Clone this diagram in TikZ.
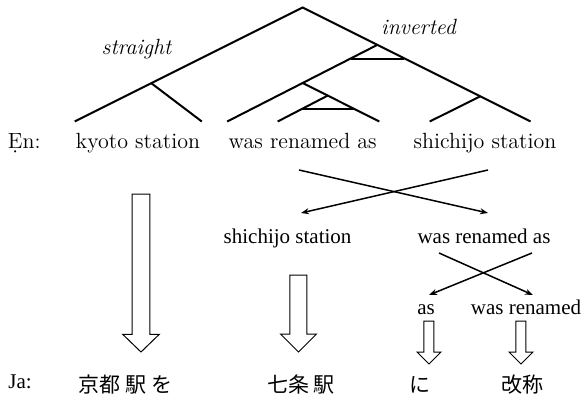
\documentclass[tikz,border=0pt]{standalone}
\usepackage{fontspec}
\newfontfamily\timesf{Liberation Serif}
\newfontfamily\cjk{Noto Sans CJK JP}
\usetikzlibrary{arrows.meta}
\tikzset{
  pics/harrow/.style n args={4}{code={
    \draw[line width=0.5pt] (0,0) -- (-#3/2,-#4) -- (-#2/2,-#4) -- (-#2/2,-#1)
      -- (#2/2,-#1) -- (#2/2,-#4) -- (#3/2,-#4) -- cycle;
  }},
}
\begin{document}
\begin{tikzpicture}[x=0.5pt,y=-0.5pt,
  treeline/.style={line width=1pt},
  crossline/.style={line width=0.75pt,-{Stealth[length=4pt,width=3pt]}},
  entext/.style={inner sep=0pt,anchor=base,font=\fontsize{11}{13}\selectfont},
  labeltext/.style={inner sep=0pt,anchor=base,font=\fontsize{11}{13}\selectfont\itshape},
  tmtext/.style={inner sep=0pt,anchor=base,font=\fontsize{10.5}{12}\selectfont\timesf},
  jatext/.style={inner sep=0pt,anchor=center,font=\fontsize{10.5}{12}\selectfont\cjk},
]
\useasboundingbox (0,0) rectangle (586,402);

% tree coordinates
\coordinate (root) at (302.7,7.5);
\coordinate (l1) at (74.7,121.5);
\coordinate (r1) at (530.6,121.5);
\coordinate (s) at (151.3,83.2);
\coordinate (sl) at (201.8,121.5);
\coordinate (i) at (377.4,44.85);
\coordinate (l2) at (227.2,121.5);
\coordinate (m) at (302.7,83);
\coordinate (ml) at (379.3,121.5);
\coordinate (n) at (327.7,95.6);
\coordinate (nl) at (277.7,121.5);
\coordinate (r) at (480.2,96.35);
\coordinate (rl) at (429.7,121.5);
\coordinate (b1a) at (351,58.7);
\coordinate (b1b) at (404.5,58.7);
\coordinate (b2a) at (302,109.1);
\coordinate (b2b) at (354,109.1);

\draw[treeline] (l1) -- (root) -- (r1);
\draw[treeline] (s) -- (sl);
\draw[treeline] (i) -- (l2);
\draw[treeline] (m) -- (ml);
\draw[treeline] (n) -- (nl);
\draw[treeline] (r) -- (rl);
\draw[treeline] (b1a) -- (b1b);
\draw[treeline] (b2a) -- (b2b);

\node[labeltext] (straight) at (136.5,54) {straight};
\node[labeltext] (inverted) at (418.5,34) {inverted};

% English
\node[entext,anchor=base west] (en) at (7.5,148) {\d{E}n:};
\node[entext] (kyoto) at (138,148) {kyoto station};
\node[entext] (wra) at (302.7,148) {was renamed as};
\node[entext] (shi) at (485,148) {shichijo station};

% first cross
\coordinate (c1a) at (299,170);
\coordinate (c1b) at (488,213);
\coordinate (c1c) at (488,170);
\coordinate (c1d) at (301,213);
\draw[crossline] (c1a) -- (c1b);
\draw[crossline] (c1c) -- (c1d);

\node[tmtext] (shi2) at (287.6,243) {shichijo station};
\node[tmtext] (wra2) at (484,243) {was renamed as};

% second cross
\coordinate (c2a) at (439,253);
\coordinate (c2b) at (533,295);
\coordinate (c2c) at (532,253);
\coordinate (c2d) at (429,295);
\draw[crossline] (c2a) -- (c2b);
\draw[crossline] (c2c) -- (c2d);

\node[tmtext] (as3) at (426,314) {as};
\node[tmtext] (wr3) at (526,314) {was renamed};

% hollow arrows
\pic at (141,352) {harrow={158}{17.6}{36.6}{17.7}};
\pic at (298.5,352) {harrow={77}{17}{36}{18}};
\pic at (429,364) {harrow={43}{10}{24}{12}};
\pic at (521,364) {harrow={43}{10}{24}{12}};

% Japanese
\node[tmtext,anchor=base west] (ja) at (8,388) {Ja:};
\node[jatext] (j1) at (125.5,384.5) {京都 駅 を};
\node[jatext] (j2) at (301,384.5) {七条 駅};
\node[jatext] (j3) at (420,384.5) {に};
\node[jatext] (j4) at (523,384.5) {改称};
\end{tikzpicture}
\end{document}
